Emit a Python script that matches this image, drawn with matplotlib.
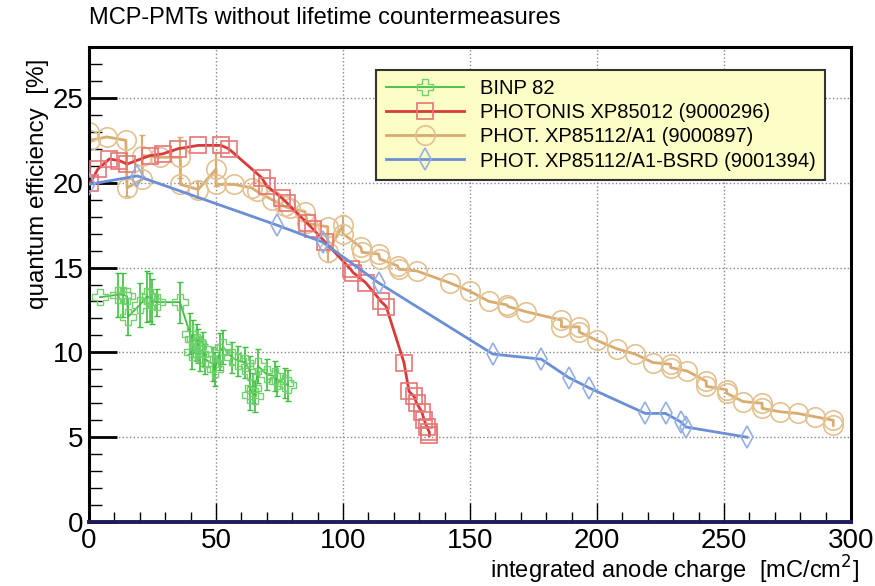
import numpy as np
import matplotlib
matplotlib.use("Agg")
import matplotlib.pyplot as plt
from matplotlib.lines import Line2D

plt.rcParams['font.family'] = ['Liberation Sans', 'DejaVu Sans']

# BINP 82 (with error bars)
binp_x = [4.3, 11.4, 13.4, 15.0, 15.4, 20.0, 22.8, 24.0, 25.0, 26.7, 35.8, 39.8, 41.0,
          42.5, 43.0, 40.5, 43.7, 45.0, 45.7, 49.0, 49.6, 51.6, 52.8, 56.3, 58.7, 61.4,
          63.4, 63.4, 64.6, 65.4, 66.5, 70.0, 73.2, 74.0, 77.0, 78.3]
binp_y = [13.25, 13.4, 13.4, 13.3, 12.1, 12.8, 13.3, 13.25, 13.0, 12.96, 12.96, 11.1, 10.8,
          10.6, 10.4, 10.0, 9.9, 10.2, 9.6, 9.3, 9.0, 10.05, 10.3, 9.7, 9.5, 9.4,
          8.9, 7.5, 7.9, 7.4, 9.2, 8.7, 8.6, 8.3, 8.2, 8.05]
binp_err = [0.0, 1.3, 1.3, 0.0, 1.1, 1.3, 1.5, 1.4, 1.3, 0.8, 1.2, 1.2, 1.1,
            1.1, 1.0, 1.0, 1.0, 1.0, 0.9, 1.0, 1.0, 1.1, 1.0, 0.9, 0.9, 0.9,
            0.9, 0.9, 0.9, 0.9, 1.0, 0.9, 0.9, 0.9, 0.9, 0.9]

# PHOTONIS XP85012 (9000296)
xp012_x = [0.5, 3.5, 8, 12, 15, 24, 29, 35, 43, 52, 55, 68, 70, 76, 78, 86, 88, 93,
           103, 104, 109, 115, 117, 124, 126, 128, 129, 131, 132, 133, 134, 134]
xp012_y = [20.0, 20.8, 21.4, 21.3, 21.1, 21.6, 21.7, 22.0, 22.2, 22.2, 22.0, 20.3, 19.8,
           19.1, 18.8, 17.6, 17.3, 16.5, 14.9, 14.7, 14.1, 13.0, 12.7, 9.4, 7.7, 7.4,
           7.0, 6.5, 6.0, 5.6, 5.3, 5.1]

# PHOT. XP85112/A1 (9000897)
a1_x = [0, 0.5, 7, 14.5, 15, 21, 21, 28, 36, 36, 43, 50, 50, 57, 64, 66, 72, 77, 79, 85,
        86, 94, 94, 100, 100, 107, 107.5, 114, 114.5, 121.5, 122, 129, 142, 150, 157.5,
        164.5, 165, 172, 186, 186, 193, 193, 200, 208, 215, 222, 229, 229, 235.5, 243,
        243, 251, 251, 257.5, 265, 265, 272, 279, 286, 293, 293]
a1_y = [23.0, 22.5, 22.7, 22.5, 19.7, 20.2, 21.6, 21.5, 21.5, 19.9, 19.6, 20.8, 19.9, 19.9,
        19.7, 19.5, 19.0, 18.6, 18.5, 18.3, 17.6, 17.4, 15.9, 17.5, 17.0, 16.2, 15.9, 15.8,
        15.5, 15.1, 14.9, 14.8, 14.1, 13.6, 13.0, 12.8, 12.7, 12.4, 11.9, 11.5, 11.5, 11.2,
        10.7, 10.2, 9.9, 9.4, 9.3, 9.1, 8.9, 8.3, 8.0, 7.8, 7.6, 7.1, 7.0, 6.7, 6.5, 6.4,
        6.2, 6.0, 5.7]
a1_err = [0, 0, 0, 0, 0.5, 0, 1.2, 0, 1.2, 0, 0.5, 1.0, 0, 0, 0, 0, 0, 0, 0, 0,
          0, 0, 0.6, 0.6, 0, 0, 0, 0, 0, 0, 0, 0, 0, 0, 0,
          0, 0, 0, 0, 0, 0, 0, 0, 0, 0, 0, 0, 0, 0, 0,
          0, 0, 0, 0, 0, 0, 0, 0, 0, 0, 0]

# PHOT. XP85112/A1-BSRD (9001394)
bsrd_x = [0, 19, 74, 92, 114, 159, 178, 189, 197, 219, 227, 233, 235, 259]
bsrd_y = [19.9, 20.4, 17.5, 16.5, 14.1, 9.9, 9.6, 8.5, 7.9, 6.4, 6.4, 5.9, 5.6, 5.0]

labels = ["BINP 82", "PHOTONIS XP85012 (9000296)", "PHOT. XP85112/A1 (9000897)",
          "PHOT. XP85112/A1-BSRD (9001394)"]

fig = plt.figure(figsize=(8.75, 5.86), dpi=100)
ax = fig.add_axes([0.1017, 0.1092, 0.8709, 0.8106])

green = '#3fbf3f'
red = '#d93a3a'
tan = '#d8ab6e'
blue = '#6a8fd6'

styles = [
    dict(color=green, lw=1.3, marker='P', ms=11, mfc='none', mec='#6fd26f', mew=1.0),
    dict(color=red, lw=2, marker='s', ms=12, mfc='none', mec='#e87474', mew=1.2),
    dict(color=tan, lw=2, marker='o', ms=14, mfc='none', mec='#e3c190', mew=1.2),
    dict(color=blue, lw=2, marker='d', ms=11, mfc='none', mec='#93aee3', mew=1.2),
]

bx, by, be = np.array(binp_x), np.array(binp_y), np.array(binp_err)
m = be > 0
ax.errorbar(bx[m], by[m], yerr=be[m], fmt='none', ecolor=green, elinewidth=1.2,
            capsize=2, zorder=3)
ax.plot(binp_x, binp_y, zorder=3, **styles[0])
ax.plot(xp012_x, xp012_y, zorder=4, **styles[1])
ox, oy, oe = np.array(a1_x), np.array(a1_y), np.array(a1_err)
m = oe > 0
ax.errorbar(ox[m], oy[m], yerr=oe[m], fmt='none', ecolor=tan, elinewidth=1.5,
            capsize=2, zorder=2)
ax.plot(a1_x, a1_y, zorder=2, **styles[2])
ax.plot(bsrd_x, bsrd_y, zorder=5, **styles[3])

ax.set_xlim(0, 300)
ax.set_ylim(0, 28)
ax.set_xticks(np.arange(0, 301, 50))
ax.set_yticks(np.arange(0, 26, 5))
ax.set_xticks(np.arange(0, 301, 10), minor=True)
ax.set_yticks(np.arange(0, 28, 1), minor=True)
ax.tick_params(axis='both', which='both', direction='in', labelsize=20, colors='black')
ax.tick_params(axis='x', which='major', length=14, width=1, pad=4)
ax.tick_params(axis='x', which='minor', length=7, width=1)
ax.tick_params(axis='y', which='major', length=20, width=2, pad=4)
ax.tick_params(axis='y', which='minor', length=9, width=1)
ax.grid(True, which='major', color='#888888', ls=':', lw=1)

for s in ['left', 'top', 'right']:
    ax.spines[s].set_linewidth(2.2)
    ax.spines[s].set_color('black')
ax.spines['bottom'].set_linewidth(2.8)
ax.spines['bottom'].set_color('#1c1c5c')

handles = [Line2D([], [], **st) for st in styles]
leg = ax.legend(handles, labels, loc='upper left', bbox_to_anchor=(0.364, 0.972),
                fontsize=14.5, frameon=True, fancybox=False, framealpha=1,
                facecolor='#fdfdc6', edgecolor='#333333', handlelength=3.9,
                labelspacing=0.25, borderpad=0.45, handletextpad=0.8)
leg.get_frame().set_linewidth(1.5)

fig.text(0.102, 0.969, "MCP-PMTs without lifetime countermeasures", fontsize=17,
         ha='left', va='center')
fig.text(0.982, 0.028, "integrated anode charge  [mC/cm$^2$]", fontsize=17,
         ha='right', va='center')
fig.text(0.044, 0.9, "quantum efficiency  [%]", fontsize=17.5, rotation=90,
         ha='center', va='top')

fig.savefig("out.png", dpi=100)
